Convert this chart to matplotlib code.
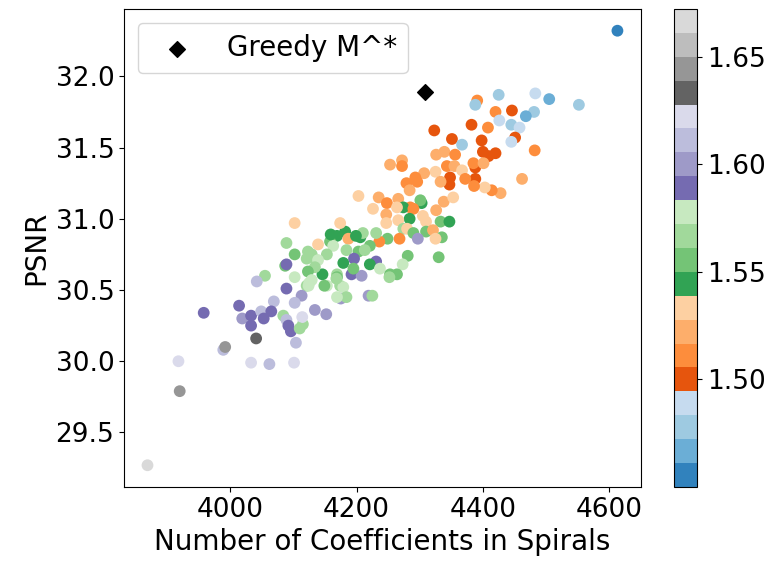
import matplotlib.pyplot as plt

# number of spiral coefficients, PSNR and ratio for each sampled configuration
n_coeffs = [
    4425, 4483, 4505, 4552, 4391, 4388, 4446, 4420, 4481, 4468,
    4426, 4382, 4445, 4458, 4408, 4351, 4367, 4398, 4451, 4445,
    4482, 4400, 4420, 4409, 4339, 4356, 4343, 4355, 4367, 4388,
    4385, 4462, 4348, 4347, 4388, 4372, 4428, 4414, 4403, 4386,
    4323, 4326, 4253, 4272, 4272, 4401, 4325, 4307, 4333, 4293,
    4296, 4279, 4284, 4203, 4235, 4248, 4266, 4338, 4353, 4285,
    4303, 4301, 4274, 4264, 4226, 4247, 4290, 4305, 4310, 4326,
    4333, 4284, 4266, 4274, 4280, 4290, 4310, 4321, 4335, 4325,
    4297, 4330, 4268, 4247, 4249, 4236, 4206, 4169, 4182, 4187,
    4174, 4139, 4158, 4210, 4231, 4221, 4203, 4184, 4163, 4123,
    4153, 4196, 4231, 4179, 4221, 4281, 4273, 4264, 4237, 4253,
    4146, 4136, 4192, 4208, 4169, 4102, 4089, 4102, 4087, 4089,
    4121, 4129, 4139, 4134, 4123, 4102, 4055, 4042, 4129, 4121,
    4089, 4169, 4174, 4153, 4195, 4213, 4125, 4113, 4102, 4069,
    4014, 3958, 4019, 4033, 4049, 4065, 4053, 4033, 4134, 4084,
    4089, 4092, 4096, 4115, 4104, 4041, 3989, 3992, 3918, 4033,
    4062, 4101, 3920, 3869, 4114, 4110, 4152, 4175, 4219, 4225,
    4179, 4184, 4169, 4252, 4347, 4149, 4168, 4124, 4159, 4199,
    4613,
]
psnr = [
    31.87, 31.88, 31.84, 31.80, 31.83, 31.80, 31.76, 31.75, 31.75, 31.72,
    31.69, 31.66, 31.66, 31.64, 31.64, 31.56, 31.52, 31.55, 31.57, 31.54,
    31.48, 31.47, 31.46, 31.44, 31.47, 31.45, 31.37, 31.37, 31.34, 31.36,
    31.39, 31.28, 31.29, 31.24, 31.28, 31.28, 31.18, 31.20, 31.22, 31.23,
    31.62, 31.45, 31.38, 31.41, 31.37, 31.39, 31.33, 31.32, 31.26, 31.29,
    31.26, 31.25, 31.20, 31.16, 31.15, 31.11, 31.14, 31.12, 31.15, 31.08,
    31.11, 31.13, 31.08, 31.08, 31.07, 31.03, 31.07, 31.02, 30.98, 31.06,
    30.98, 31.00, 30.99, 30.93, 30.93, 30.90, 30.91, 30.92, 30.87, 30.86,
    30.86, 30.73, 30.86, 30.97, 30.86, 30.84, 30.87, 30.88, 30.91, 30.86,
    30.97, 30.82, 30.84, 30.90, 30.90, 30.81, 30.77, 30.78, 30.81, 30.77,
    30.75, 30.72, 30.70, 30.69, 30.68, 30.74, 30.68, 30.61, 30.65, 30.61,
    30.61, 30.71, 30.61, 30.60, 30.61, 30.97, 30.83, 30.75, 30.67, 30.68,
    30.72, 30.75, 30.71, 30.66, 30.63, 30.59, 30.60, 30.56, 30.57, 30.53,
    30.51, 30.59, 30.53, 30.53, 30.65, 30.78, 30.55, 30.46, 30.41, 30.42,
    30.39, 30.34, 30.30, 30.32, 30.35, 30.35, 30.30, 30.25, 30.36, 30.32,
    30.29, 30.25, 30.21, 30.26, 30.13, 30.16, 30.08, 30.10, 30.00, 29.99,
    29.98, 29.99, 29.79, 29.27, 30.31, 30.23, 30.33, 30.44, 30.46, 30.46,
    30.52, 30.45, 30.45, 30.59, 30.98, 30.53, 30.58, 30.53, 30.89, 30.88,
    32.32,
]
ratio = [
    1.478, 1.489, 1.467, 1.478, 1.511, 1.478, 1.500, 1.511, 1.478, 1.467,
    1.489, 1.500, 1.478, 1.489, 1.511, 1.500, 1.478, 1.500, 1.500, 1.489,
    1.511, 1.500, 1.500, 1.500, 1.522, 1.511, 1.511, 1.522, 1.533, 1.500,
    1.511, 1.522, 1.500, 1.500, 1.500, 1.511, 1.522, 1.511, 1.533, 1.511,
    1.500, 1.522, 1.522, 1.522, 1.511, 1.522, 1.533, 1.522, 1.522, 1.511,
    1.511, 1.511, 1.522, 1.533, 1.522, 1.511, 1.522, 1.522, 1.533, 1.511,
    1.544, 1.556, 1.544, 1.533, 1.533, 1.522, 1.511, 1.533, 1.533, 1.522,
    1.556, 1.544, 1.533, 1.567, 1.533, 1.556, 1.556, 1.522, 1.556, 1.533,
    1.600, 1.556, 1.511, 1.533, 1.556, 1.511, 1.544, 1.544, 1.544, 1.522,
    1.533, 1.533, 1.556, 1.567, 1.567, 1.556, 1.556, 1.567, 1.578, 1.567,
    1.567, 1.589, 1.589, 1.544, 1.544, 1.556, 1.578, 1.556, 1.578, 1.556,
    1.544, 1.567, 1.589, 1.600, 1.567, 1.533, 1.567, 1.556, 1.556, 1.589,
    1.567, 1.567, 1.578, 1.567, 1.556, 1.578, 1.567, 1.611, 1.578, 1.567,
    1.589, 1.556, 1.567, 1.578, 1.556, 1.567, 1.578, 1.600, 1.611, 1.611,
    1.589, 1.589, 1.600, 1.589, 1.611, 1.589, 1.589, 1.589, 1.600, 1.567,
    1.611, 1.589, 1.589, 1.567, 1.611, 1.633, 1.611, 1.644, 1.622, 1.622,
    1.611, 1.622, 1.644, 1.672, 1.622, 1.567, 1.600, 1.600, 1.600, 1.567,
    1.578, 1.567, 1.578, 1.567, 1.544, 1.556, 1.567, 1.578, 1.544, 1.544,
    1.450,
]

greedy_coeffs = [4308]
greedy_psnr = [31.89]

fig = plt.figure(figsize=(7.75, 5.62), dpi=100)
ax = fig.add_axes([0.160, 0.1335, 0.667, 0.8505])
cax = fig.add_axes([0.8697, 0.1335, 0.0297, 0.8505])

sc = ax.scatter(n_coeffs, psnr, c=ratio, cmap='tab20c', vmin=1.45, vmax=1.6722,
                s=72, edgecolors='none')
ax.scatter(greedy_coeffs, greedy_psnr, marker='D', color='black', s=64,
           label='Greedy M^*')

ax.legend(loc='upper left', fontsize=20)
ax.set_xlabel("Number of Coefficients in Spirals", fontsize=20)
ax.set_ylabel("PSNR", fontsize=20)
ax.set_xticks([4000, 4200, 4400, 4600])
ax.set_yticks([29.5, 30.0, 30.5, 31.0, 31.5, 32.0])
ax.tick_params(labelsize=19)

cb = fig.colorbar(sc, cax=cax)
cb.set_ticks([1.50, 1.55, 1.60, 1.65])
cb.ax.tick_params(labelsize=19)

fig.savefig("out.png", dpi=100)
